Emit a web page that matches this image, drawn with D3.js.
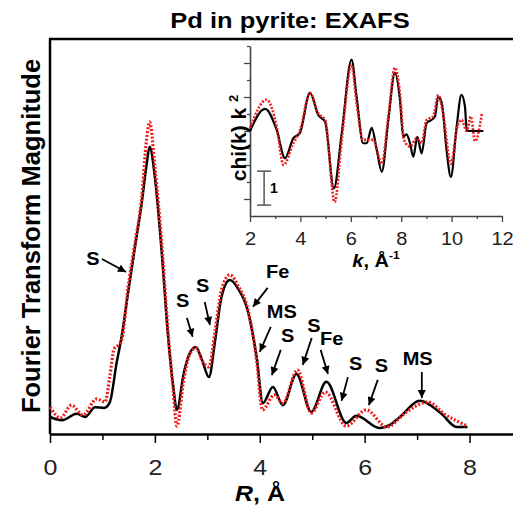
<!DOCTYPE html>
<html>
<head>
<meta charset="utf-8">
<style>
  body { margin: 0; background: #fff; }
  svg { display: block; font-family: "Liberation Sans", Arial, sans-serif; }
</style>
</head>
<body>
<div id="container"></div>
<script src="https://d3js.org/d3.v7.min.js"></script>
<script>
  // main panel: Fourier transform magnitude vs R
  const rBlack = [0, 0.23, 0.51, 0.67, 0.86, 1.03, 1.14, 1.27, 1.365, 1.49, 1.62, 1.75, 1.84, 1.90, 2.0,
    2.13, 2.25, 2.35, 2.42, 2.55, 2.65, 2.78, 2.9, 3.03, 3.15, 3.27, 3.43, 3.6, 3.75, 3.94,
    4.06, 4.25, 4.44, 4.7, 4.98, 5.27, 5.65, 5.84, 6.29, 6.48, 6.67, 7.05, 7.45, 7.75, 7.96];
  const ftBlack = [0.43, 0.35, 0.51, 0.43, 0.68, 0.66, 0.80, 1.80, 2.46, 3.59, 4.73, 5.86, 6.8, 7.27, 6.5,
    4.6, 2.5, 1.2, 0.61, 1.54, 2.0, 2.20, 1.87, 1.44, 2.38, 3.47, 3.90, 3.65, 3.22, 1.95,
    0.78, 1.19, 0.73, 1.52, 0.56, 1.32, 0.28, 0.46, 0.15, 0.23, 0.43, 0.84, 0.53, 0.18, 0.18];

  const rRed = [0, 0.2, 0.41, 0.63, 0.89, 1.05, 1.14, 1.22, 1.30, 1.37, 1.49, 1.62, 1.75, 1.84, 1.90,
    2.0, 2.13, 2.25, 2.35, 2.42, 2.55, 2.65, 2.78, 2.92, 3.03, 3.15, 3.27, 3.43, 3.6, 3.75,
    3.94, 4.05, 4.28, 4.44, 4.72, 4.98, 5.25, 5.65, 6.03, 6.42, 6.8, 7.2, 7.55, 7.96];
  const ftRed = [0.68, 0.41, 0.73, 0.48, 0.89, 0.81, 1.45, 2.15, 2.25, 2.40, 3.72, 4.83, 6.0, 7.44, 7.90,
    6.76, 4.83, 2.6, 1.1, 0.2, 1.37, 1.97, 2.18, 1.82, 1.70, 2.63, 3.65, 4.03, 3.72, 3.27,
    1.87, 0.61, 0.99, 0.78, 1.62, 0.53, 1.06, 0.20, 0.61, 0.18, 0.56, 0.81, 0.48, 0.20];

  const rMajorTicks = [0, 2, 4, 6, 8];
  const rMinorTicks = [1, 3, 5, 7];

  // inset: chi(k) k^2 vs k
  const kBlack = [2, 2.6, 3.06, 3.39, 3.72, 3.98, 4.38, 4.71, 4.98, 5.33, 5.64, 6.03, 6.23, 6.49, 6.63,
    6.83, 7.03, 7.23, 7.49, 7.75, 7.95, 8.08, 8.21, 8.35, 8.48, 8.64, 8.81, 9.01, 9.21, 9.34,
    9.47, 9.61, 9.8, 9.97, 10.2, 10.39, 10.53, 10.6, 11.26];
  const chiBlack = [0, 0.65, 0.03, -0.8, -0.21, -0.06, 1.12, 0.47, 0.27, -1.69, -0.06, 2.1, 1.01, -0.36, -0.36,
    0.09, -0.56, -1.2, 0.33, 1.71, 0.92, -0.17, -0.1, -0.36, -0.76, -0.17, -0.66, 0.23, 0.33, 0.43,
    1.01, 0.82, -0.56, -1.35, 0.13, 1.06, 0.72, 0, 0];

  const kRed = [2, 2.66, 3.06, 3.33, 3.72, 3.98, 4.38, 4.71, 4.98, 5.36, 5.64, 6.03, 6.23, 6.49, 6.89,
    7.23, 7.49, 7.75, 7.95, 8.11, 8.35, 8.61, 8.81, 9.01, 9.27, 9.47, 9.66, 9.97, 10.23, 10.39,
    10.6, 10.76, 10.93, 11.2];
  const chiRed = [0.08, 0.92, 0.13, -1.0, -0.36, 0, 1.12, 0.52, 0.33, -2.09, -0.26, 1.95, 0.82, -0.26, -0.26,
    -0.96, 0.43, 1.86, 1.12, -0.26, -0.46, -0.21, -0.36, 0.33, 0.43, 1.06, 0.52, -0.96, 0.13, 0.33,
    0, 0.43, -0.3, 0.5];

  const kMajorTicks = [2, 4, 6, 8, 10, 12];
  const kMinorTicks = [3, 5, 7, 9, 11];
  const chiMajorTicks = [-2, -1, 0, 1, 2];
  const chiMinorTicks = [-1.5, -0.5, 0.5, 1.5, 2.5];

  // peak labels: text position [R, mag] and arrow [R1, mag1, R2, mag2]
  const annLabels = ["S", "S", "S", "Fe", "MS", "S", "S", "Fe", "S", "S", "MS"];
  const annText = [[0.82, 4.28], [2.53, 3.22], [2.91, 3.59], [4.34, 3.95], [4.42, 2.94], [4.53, 2.33],
    [5.03, 2.58], [5.37, 2.25], [5.83, 1.62], [6.32, 1.57], [7.01, 1.75]];
  const annArrow = [[0.99, 4.43, 1.45, 4.10], [2.61, 2.94, 2.72, 2.46], [2.95, 3.34, 3.05, 2.76],
    [4.15, 3.70, 3.87, 3.22], [4.21, 2.71, 4.0, 2.08], [4.40, 2.13, 4.23, 1.49], [4.99, 2.43, 4.82, 1.75],
    [5.16, 2.13, 5.30, 1.52], [5.68, 1.44, 5.56, 0.84], [6.25, 1.37, 6.08, 0.73], [7.09, 1.57, 7.09, 0.91]];

  const W = 513, H = 508;
  const squash = 0.88; // the figure's lettering is a bit flattened

  const svg = d3.select("#container").append("svg")
    .attr("width", W).attr("height", H);

  svg.append("defs").append("marker")
    .attr("id", "arrow")
    .attr("viewBox", "0 0 10 10")
    .attr("refX", 10).attr("refY", 5)
    .attr("markerWidth", 9).attr("markerHeight", 8)
    .attr("markerUnits", "userSpaceOnUse")
    .attr("orient", "auto")
    .append("path").attr("d", "M0,0L10,5L0,10z").attr("fill", "#000");

  const x = d3.scaleLinear().domain([0, 9]).range([50, 522]);
  const y = d3.scaleLinear().domain([0, 10]).range([434, 39]);

  // frame: left, top
  svg.append("line").attr("x1", x(0)).attr("x2", x(0)).attr("y1", y(10)).attr("y2", y(0))
    .attr("stroke", "#000").attr("stroke-width", 2.5);
  svg.append("line").attr("x1", x(0) - 1).attr("x2", x(9)).attr("y1", y(10)).attr("y2", y(10))
    .attr("stroke", "#000").attr("stroke-width", 2.5);

  const gx = svg.append("g").attr("transform", `translate(0,${y(0)})`)
    .call(d3.axisBottom(x).tickValues(rMajorTicks).tickSize(9).tickSizeOuter(0).tickFormat(d3.format("d")));
  gx.select(".domain").attr("stroke-width", 2.5);
  gx.selectAll(".tick line").attr("stroke-width", 1.5);
  gx.selectAll("text").attr("font-size", 25).attr("font-family", "Liberation Sans, Arial, sans-serif")
    .attr("fill", "#222").attr("dy", 0).attr("y", 41 / squash).attr("transform", `scale(1,${squash})`);
  const gxm = svg.append("g").attr("transform", `translate(0,${y(0)})`)
    .call(d3.axisBottom(x).tickValues(rMinorTicks).tickSize(6).tickSizeOuter(0).tickFormat(""));
  gxm.select(".domain").remove();
  gxm.selectAll(".tick line").attr("stroke-width", 1.5);

  // curves
  const line = d3.line().x(d => x(d[0])).y(d => y(d[1])).curve(d3.curveMonotoneX);
  svg.append("path").datum(d3.zip(rBlack, ftBlack)).attr("d", line)
    .attr("fill", "none").attr("stroke", "#000").attr("stroke-width", 2.5);
  svg.append("path").datum(d3.zip(rRed, ftRed)).attr("d", line)
    .attr("fill", "none").attr("stroke", "#ee1c1c").attr("stroke-width", 3.2)
    .attr("stroke-dasharray", "2,1.8");

  // annotations
  const ann = svg.append("g");
  annLabels.forEach((lab, i) => {
    ann.append("text")
      .attr("transform", `translate(${x(annText[i][0])},${y(annText[i][1])}) scale(1,${squash})`)
      .attr("text-anchor", "middle").attr("font-weight", "bold").attr("font-size", 20)
      .text(lab);
    const a = annArrow[i];
    ann.append("line")
      .attr("x1", x(a[0])).attr("y1", y(a[1])).attr("x2", x(a[2])).attr("y2", y(a[3]))
      .attr("stroke", "#000").attr("stroke-width", 1.8).attr("marker-end", "url(#arrow)");
  });

  // titles
  svg.append("text").attr("transform", `translate(290,28) scale(1,${squash})`)
    .attr("text-anchor", "middle").attr("font-weight", "bold").attr("font-size", 25.5)
    .text("Pd in pyrite: EXAFS");
  svg.append("text").attr("transform", "translate(40,236) rotate(-90)")
    .attr("text-anchor", "middle").attr("font-weight", "bold").attr("font-size", 25.5)
    .text("Fourier Transform Magnitude");
  const rl = svg.append("text").attr("transform", `translate(260,501) scale(1,${squash})`)
    .attr("text-anchor", "middle").attr("font-weight", "bold").attr("font-size", 25);
  rl.append("tspan").attr("font-style", "italic").text("R");
  rl.append("tspan").text(", Å");

  // inset
  const kx = d3.scaleLinear().domain([2, 12]).range([250, 502]);
  const ky = d3.scaleLinear().domain([-2.5, 2.5]).range([216, 46]);
  const insetColor = "#444";

  const ikx = svg.append("g").attr("transform", `translate(0,${ky(-2.5)})`)
    .call(d3.axisBottom(kx).tickValues(kMajorTicks).tickSize(6).tickSizeOuter(0).tickFormat(d3.format("d")));
  ikx.select(".domain").attr("stroke", insetColor).attr("stroke-width", 1.6);
  ikx.selectAll(".tick line").attr("stroke", insetColor).attr("stroke-width", 1.3);
  ikx.selectAll("text").attr("font-size", 20).attr("font-family", "Liberation Sans, Arial, sans-serif")
    .attr("fill", "#222").attr("dy", 0).attr("y", 29 / squash).attr("transform", `scale(1,${squash})`);
  const ikxm = svg.append("g").attr("transform", `translate(0,${ky(-2.5)})`)
    .call(d3.axisBottom(kx).tickValues(kMinorTicks).tickSize(3).tickSizeOuter(0).tickFormat(""));
  ikxm.select(".domain").remove();
  ikxm.selectAll(".tick line").attr("stroke", insetColor).attr("stroke-width", 1.3);

  const iky = svg.append("g").attr("transform", `translate(${kx(2)},0)`)
    .call(d3.axisLeft(ky).tickValues(chiMajorTicks).tickSize(6).tickSizeOuter(0).tickFormat(""));
  iky.select(".domain").attr("stroke", insetColor).attr("stroke-width", 1.6);
  iky.selectAll(".tick line").attr("stroke", insetColor).attr("stroke-width", 1.3);
  const ikym = svg.append("g").attr("transform", `translate(${kx(2)},0)`)
    .call(d3.axisLeft(ky).tickValues(chiMinorTicks).tickSize(3).tickSizeOuter(0).tickFormat(""));
  ikym.select(".domain").remove();
  ikym.selectAll(".tick line").attr("stroke", insetColor).attr("stroke-width", 1.3);

  const kline = d3.line().x(d => kx(d[0])).y(d => ky(d[1])).curve(d3.curveMonotoneX);
  svg.append("path").datum(d3.zip(kBlack, chiBlack)).attr("d", kline)
    .attr("fill", "none").attr("stroke", "#000").attr("stroke-width", 2.2);
  svg.append("path").datum(d3.zip(kRed, chiRed)).attr("d", kline)
    .attr("fill", "none").attr("stroke", "#ee1c1c").attr("stroke-width", 2.6)
    .attr("stroke-dasharray", "2,1.6");

  // scale bar (1 unit)
  const sbk = 2.56, sbTop = -1.18, sbBot = -2.18;
  const sb = svg.append("g").attr("stroke", "#555").attr("stroke-width", 1.5);
  sb.append("line").attr("x1", kx(sbk)).attr("x2", kx(sbk)).attr("y1", ky(sbTop)).attr("y2", ky(sbBot));
  sb.append("line").attr("x1", kx(sbk) - 7).attr("x2", kx(sbk) + 7).attr("y1", ky(sbTop)).attr("y2", ky(sbTop));
  sb.append("line").attr("x1", kx(sbk) - 7).attr("x2", kx(sbk) + 7).attr("y1", ky(sbBot)).attr("y2", ky(sbBot));
  svg.append("text").attr("x", kx(sbk) + 6).attr("y", ky(-1.82))
    .attr("font-weight", "bold").attr("font-size", 14).text("1");

  const cl = svg.append("text").attr("transform", "translate(246,138) rotate(-90)")
    .attr("text-anchor", "middle").attr("font-weight", "bold").attr("font-size", 21);
  cl.append("tspan").text("chi(k) k ");
  cl.append("tspan").attr("font-size", 13).attr("dy", -8).text("2");

  const kl = svg.append("text").attr("transform", `translate(376,267) scale(1,${squash})`)
    .attr("text-anchor", "middle").attr("font-weight", "bold").attr("font-size", 20);
  kl.append("tspan").attr("font-style", "italic").text("k");
  kl.append("tspan").text(", Å");
  kl.append("tspan").attr("font-size", 12).attr("dy", -9).text("-1");
</script>
</body>
</html>
